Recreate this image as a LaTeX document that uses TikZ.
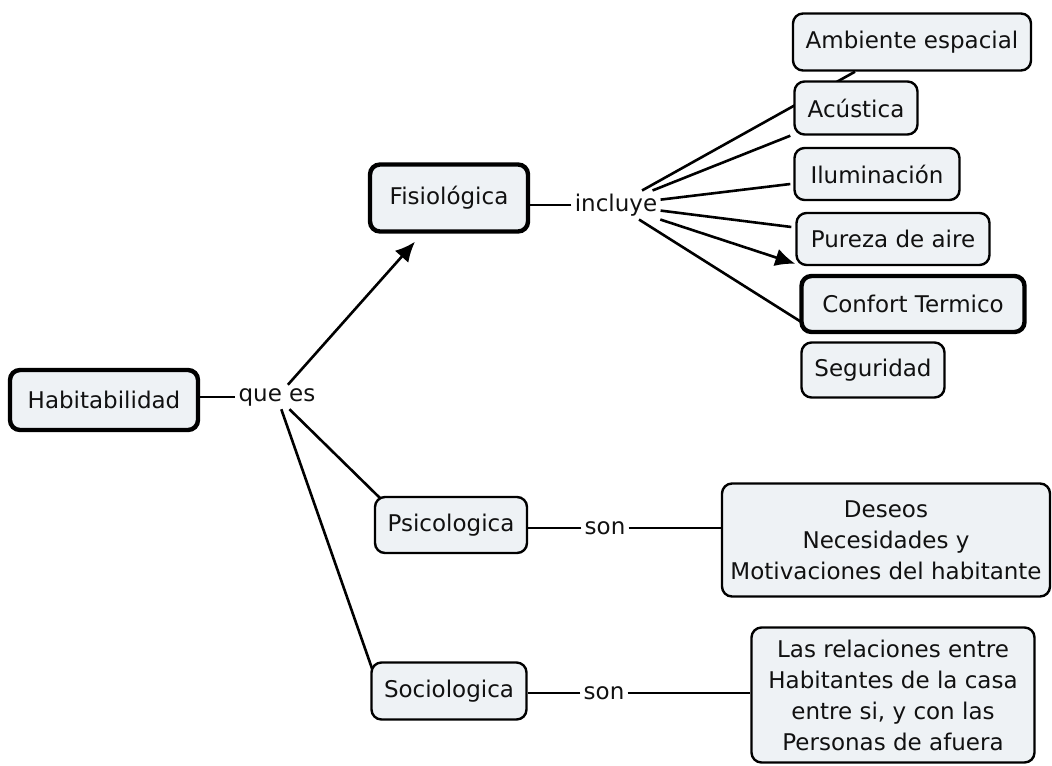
\documentclass[tikz,border=0pt]{standalone}
\usepackage{fontspec}
\setmainfont{DejaVu Sans}
\usetikzlibrary{arrows.meta,backgrounds}
\definecolor{boxfill}{HTML}{EEF2F5}
\definecolor{ink}{HTML}{111111}
\begin{document}
\begin{tikzpicture}[x=0.5pt,y=-0.5pt,
  font=\fontsize{11.5}{15.5}\selectfont, text=ink,
  concept/.style={draw=black, fill=boxfill, rounded corners=5pt, line width=1.2pt, align=center, inner sep=0pt},
  key/.style={concept, line width=2.2pt},
  link/.style={inner sep=1.5pt},
  conn/.style={line width=1.3pt, draw=black},
  arr/.style={conn, -{Latex[length=10pt,width=9pt]}}
]
\useasboundingbox (0,0) rectangle (1052,765);
% concepts
\node[key, minimum width=94pt, minimum height=30pt] (hab) at (104,400) {Habitabilidad};
\node[key, minimum width=79pt, minimum height=33.5pt] (fis) at (449,198) {Fisiológica};
\node[concept, minimum width=119pt, minimum height=28.5pt] (amb) at (912,42) {Ambiente espacial};
\node[concept, minimum width=61.5pt, minimum height=26.5pt] (acu) at (856,108) {Acústica};
\node[concept, minimum width=82.5pt, minimum height=26pt] (ilu) at (877,174) {Iluminación};
\node[concept, minimum width=96.5pt, minimum height=26pt] (pur) at (893,239) {Pureza de aire};
\node[key, minimum width=111.5pt, minimum height=28pt] (conf) at (913,304) {Confort Termico};
\node[concept, minimum width=71.5pt, minimum height=27.5pt] (seg) at (873,370) {Seguridad};
\node[concept, minimum width=76pt, minimum height=28pt] (psi) at (451,525) {Psicologica};
\node[concept, minimum width=164pt, minimum height=56.5pt] (des) at (886,540) {Deseos\\Necesidades y\\Motivaciones del habitante};
\node[concept, minimum width=77.5pt, minimum height=28.5pt] (soc) at (449,691) {Sociologica};
\node[concept, minimum width=141.5pt, minimum height=67.5pt] (rel) at (893,695) {Las relaciones entre\\Habitantes de la casa\\entre si, y con las\\Personas de afuera};
% linking phrases
\node[link] (quees) at (277,397) {que es};
\node[link] (incl) at (616,205) {incluye};
\node[link] (son1) at (605,528) {son};
\node[link] (son2) at (604,693) {son};
% connectors
\begin{scope}[on background layer]
\draw[conn] (hab.east |- quees) -- (quees.west);
\draw[arr] (quees) -- ([xshift=-17pt,yshift=-4pt]fis.south);
\draw[conn] (quees) -- ([xshift=4pt,yshift=-2pt]psi.north west);
\draw[conn] (quees) -- ([xshift=1pt,yshift=-4pt]soc.north west);
\draw[conn] (incl.west) -- (incl.west -| fis.east);
\draw[conn] (incl) -- ([xshift=-28.5pt]amb.south);
\draw[conn] (incl) -- ([xshift=-1.5pt]acu.south west);
\draw[conn] (incl) -- ([xshift=-1.5pt,yshift=-5pt]ilu.west);
\draw[conn] (incl) -- ([xshift=-2pt,yshift=6pt]pur.west);
\draw[arr] (incl) -- ([xshift=-2pt,yshift=5pt]conf.north west);
\draw[conn] (incl) -- ([xshift=1pt,yshift=-9pt]conf.west);
\draw[conn] (son1.west) -- (son1.west -| psi.east);
\draw[conn] (son1.east) -- (son1.east -| des.west);
\draw[conn] (son2.west) -- (son2.west -| soc.east);
\draw[conn] (son2.east) -- (son2.east -| rel.west);
\end{scope}
\end{tikzpicture}
\end{document}
